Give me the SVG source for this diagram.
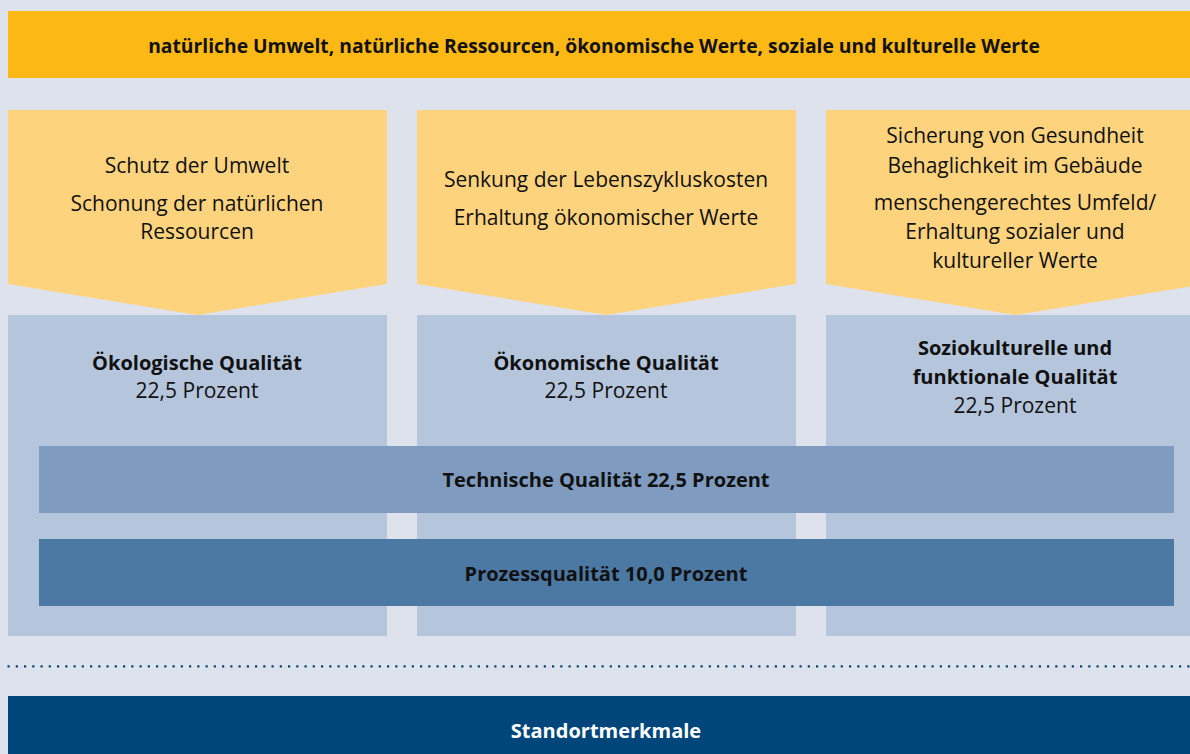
<svg xmlns="http://www.w3.org/2000/svg" width="1190" height="754" viewBox="0 0 1190 754">
  <style>
    .bg { fill: #dee2ed; }
    .goal { fill: #fed37d; }
    .quality { fill: #b5c5dc; }
    .tech { fill: #7f9bc0; }
    .process { fill: #4c78a4; }
    .site { fill: #00467a; }
    text { font-family: "Open Sans", "Noto Sans", sans-serif; fill: #111111; text-anchor: middle; }
    .reg { font-size: 21px; }
    .bold { font-size: 20px; font-weight: 700; }
    .head { font-size: 19.3px; font-weight: 700; }
    .white { fill: #ffffff; }
  </style>

  <rect class="bg" x="0" y="0" width="1190" height="754"/>

  <!-- values bar -->
  <g id="values">
    <rect x="8" y="11" width="1182" height="67" fill="#fcb814"/>
    <text class="head" x="594" y="53">natürliche Umwelt, natürliche Ressourcen, ökonomische Werte, soziale und kulturelle Werte</text>
  </g>

  <!-- quality columns -->
  <g id="col-oeko">
    <rect class="quality" x="8" y="315" width="379" height="321"/>
    <text class="bold" x="197" y="370">Ökologische Qualität</text>
    <text class="reg" x="197" y="398">22,5 Prozent</text>
  </g>
  <g id="col-oekon">
    <rect class="quality" x="417" y="315" width="379" height="321"/>
    <text class="bold" x="606" y="370">Ökonomische Qualität</text>
    <text class="reg" x="606" y="398">22,5 Prozent</text>
  </g>
  <g id="col-sozio">
    <rect class="quality" x="826" y="315" width="364" height="321"/>
    <text class="bold" x="1015" y="355">Soziokulturelle und</text>
    <text class="bold" x="1015" y="384">funktionale Qualität</text>
    <text class="reg" x="1015" y="413">22,5 Prozent</text>
  </g>

  <!-- goal arrows -->
  <g id="goal-oeko">
    <polygon class="goal" points="8,110 387,110 387,284 197.5,315 8,284"/>
    <text class="reg" x="197" y="173">Schutz der Umwelt</text>
    <text class="reg" x="197" y="211">Schonung der natürlichen</text>
    <text class="reg" x="197" y="239">Ressourcen</text>
  </g>
  <g id="goal-oekon">
    <polygon class="goal" points="417,110 796,110 796,284 606.5,315 417,284"/>
    <text class="reg" x="606" y="187">Senkung der Lebenszykluskosten</text>
    <text class="reg" x="606" y="225">Erhaltung ökonomischer Werte</text>
  </g>
  <g id="goal-sozio">
    <polygon class="goal" points="826,110 1205,110 1205,284 1015.5,315 826,284"/>
    <text class="reg" x="1015" y="143">Sicherung von Gesundheit</text>
    <text class="reg" x="1015" y="173">Behaglichkeit im Gebäude</text>
    <text class="reg" x="1015" y="210">menschengerechtes Umfeld/</text>
    <text class="reg" x="1015" y="239">Erhaltung sozialer und</text>
    <text class="reg" x="1015" y="268">kultureller Werte</text>
  </g>

  <!-- cross-cutting bars -->
  <g id="technik">
    <rect class="tech" x="39" y="446" width="1135" height="67"/>
    <text class="bold" x="606" y="487">Technische Qualität 22,5 Prozent</text>
  </g>
  <g id="prozess">
    <rect class="process" x="39" y="539" width="1135" height="67"/>
    <text class="bold" x="606" y="581">Prozessqualität 10,0 Prozent</text>
  </g>

  <!-- separator -->
  <g id="connectors">
    <line x1="7.5" y1="666.3" x2="1190" y2="666.3" stroke="#00467a" stroke-width="2.2" stroke-dasharray="2.2 6.05"/>
  </g>

  <!-- site bar -->
  <g id="standort">
    <rect class="site" x="8" y="696" width="1182" height="58"/>
    <text class="bold white" x="606" y="738">Standortmerkmale</text>
  </g>
</svg>
